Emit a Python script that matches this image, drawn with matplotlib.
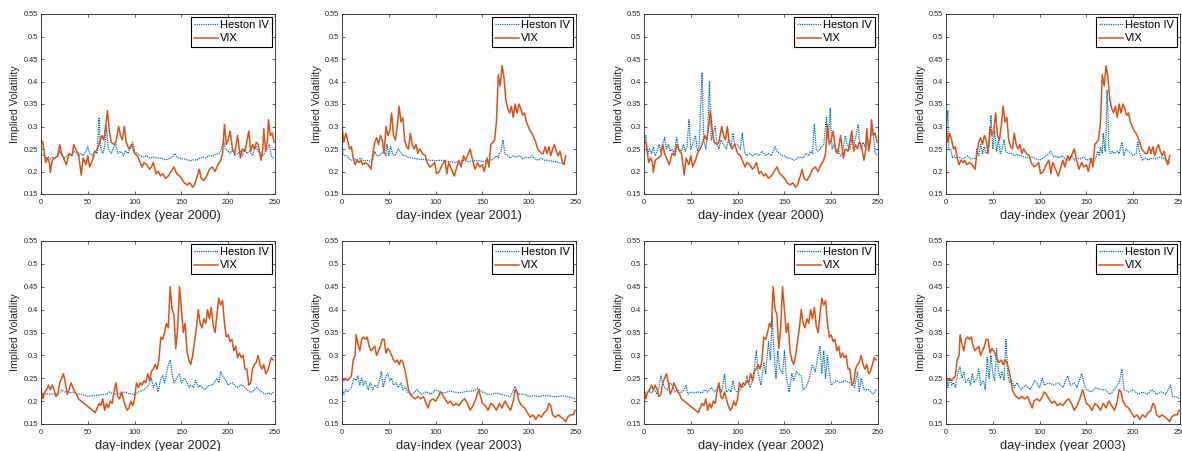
import matplotlib
matplotlib.use('Agg')
import matplotlib.pyplot as plt

plt.rcParams['font.family'] = ['Liberation Sans', 'DejaVu Sans']

# values, as (day-index, implied vol) pairs
vix_2000 = [(0, .27), (2, .265), (3, .25), (5, .22), (7, .23), (9, .22), (10, .198), (12, .225), (15, .23),
            (18, .235), (20, .26), (22, .24), (25, .225), (27, .215), (30, .24), (33, .235), (35, .26), (38, .245),
            (40, .24), (43, .192), (45, .23), (48, .215), (50, .235), (52, .21), (55, .225), (57, .24), (60, .25),
            (62, .26), (65, .28), (67, .27), (69, .30), (71, .335), (73, .29), (75, .265), (78, .26), (80, .265),
            (83, .30), (85, .28), (87, .27), (89, .30), (91, .265), (94, .25), (97, .26), (100, .24), (103, .235),
            (105, .225), (108, .21), (110, .22), (113, .215), (116, .205), (118, .21), (120, .22), (123, .195),
            (125, .20), (128, .19), (130, .195), (133, .185), (136, .19), (139, .2), (142, .21), (145, .195),
            (148, .19), (150, .185), (153, .175), (156, .17), (159, .175), (162, .165), (164, .17), (167, .19),
            (169, .205), (171, .185), (174, .18), (177, .19), (180, .205), (183, .21), (186, .2), (189, .215),
            (192, .225), (194, .24), (196, .305), (198, .26), (200, .27), (202, .29), (205, .245), (207, .24),
            (210, .28), (213, .23), (215, .25), (218, .245), (222, .29), (224, .245), (226, .26), (228, .25),
            (230, .265), (232, .26), (235, .225), (237, .25), (238, .295), (240, .245), (242, .27), (243, .315),
            (245, .28), (247, .285), (249, .265)]

heston_a_2000 = [(0, .24), (3, .235), (5, .23), (8, .232), (10, .228), (13, .232), (15, .23), (18, .235), (20, .245),
                 (22, .235), (25, .23), (28, .235), (30, .24), (33, .235), (35, .245), (38, .24), (40, .235),
                 (43, .24), (45, .235), (48, .245), (50, .255), (52, .24), (55, .235), (57, .245), (60, .24),
                 (62, .32), (63, .27), (64, .25), (66, .24), (68, .255), (70, .30), (71, .27), (72, .25), (75, .24),
                 (78, .255), (80, .26), (82, .24), (85, .245), (88, .235), (90, .245), (93, .24), (95, .25),
                 (98, .265), (100, .245), (103, .24), (106, .235), (110, .232), (113, .235), (116, .23), (120, .232),
                 (123, .23), (126, .23), (130, .228), (133, .226), (136, .228), (140, .232), (143, .24), (145, .232),
                 (148, .23), (150, .228), (153, .228), (156, .226), (160, .224), (163, .226), (166, .225), (170, .23),
                 (173, .232), (176, .23), (180, .236), (183, .233), (186, .238), (190, .24), (192, .245), (195, .27),
                 (197, .25), (200, .245), (202, .24), (205, .25), (207, .235), (210, .24), (213, .245), (215, .235),
                 (218, .25), (220, .24), (223, .245), (226, .235), (228, .25), (230, .255), (232, .245), (235, .24),
                 (237, .235), (240, .245), (242, .25), (244, .26), (246, .235), (248, .23), (249, .228)]

heston_b_2000 = [(0, .265), (2, .28), (4, .24), (6, .25), (8, .24), (10, .255), (12, .235), (14, .245), (16, .26),
                 (18, .245), (20, .26), (22, .275), (24, .25), (26, .26), (28, .245), (30, .25), (32, .24), (35, .275),
                 (37, .25), (40, .245), (42, .26), (44, .245), (46, .255), (48, .315), (50, .25), (52, .26), (55, .28),
                 (57, .245), (59, .255), (62, .42), (63, .33), (64, .27), (66, .25), (68, .28), (70, .40), (71, .32),
                 (72, .27), (74, .285), (76, .30), (78, .26), (80, .25), (82, .27), (85, .26), (88, .25), (90, .27),
                 (93, .255), (95, .285), (97, .26), (100, .26), (103, .25), (105, .285), (107, .25), (108, .24),
                 (110, .235), (113, .24), (116, .235), (120, .24), (123, .235), (126, .245), (130, .235), (133, .24),
                 (136, .235), (140, .255), (142, .245), (145, .24), (148, .235), (150, .235), (153, .23), (156, .23),
                 (160, .225), (163, .228), (166, .232), (170, .23), (173, .24), (176, .235), (178, .245), (180, .24),
                 (182, .305), (184, .25), (186, .245), (188, .25), (190, .255), (192, .26), (195, .32), (196, .28),
                 (197, .27), (199, .34), (200, .28), (201, .25), (203, .26), (205, .245), (207, .25), (210, .235),
                 (212, .24), (215, .28), (217, .26), (220, .25), (222, .27), (224, .26), (226, .275), (229, .305),
                 (230, .27), (232, .25), (234, .265), (236, .255), (238, .285), (240, .26), (242, .275), (244, .30),
                 (246, .26), (247, .24), (249, .235)]

vix_2001 = [(0, .30), (2, .265), (4, .285), (6, .27), (8, .25), (10, .255), (12, .23), (14, .215), (16, .225),
            (18, .22), (20, .225), (22, .215), (25, .22), (28, .215), (31, .205), (33, .24), (35, .265), (37, .275),
            (39, .26), (41, .28), (43, .27), (45, .24), (47, .30), (49, .28), (51, .29), (53, .33), (55, .28),
            (57, .27), (59, .30), (61, .345), (63, .31), (65, .32), (67, .27), (69, .255), (71, .25), (73, .285),
            (75, .26), (77, .25), (79, .26), (81, .24), (83, .25), (86, .24), (89, .235), (91, .22), (94, .21),
            (97, .215), (99, .22), (101, .195), (104, .2), (107, .215), (110, .225), (112, .195), (114, .22),
            (117, .205), (120, .19), (122, .205), (125, .225), (127, .21), (130, .235), (132, .225), (135, .24),
            (137, .25), (139, .23), (142, .205), (145, .22), (147, .21), (150, .215), (152, .2), (155, .23),
            (157, .21), (159, .26), (161, .265), (163, .27), (165, .31), (167, .415), (169, .39), (171, .435),
            (173, .41), (175, .36), (177, .34), (179, .33), (181, .345), (183, .32), (185, .35), (187, .33),
            (189, .35), (191, .34), (193, .325), (195, .33), (197, .31), (199, .30), (201, .29), (203, .285),
            (205, .275), (207, .265), (209, .25), (211, .245), (213, .24), (215, .24), (217, .255), (219, .24),
            (221, .255), (223, .235), (225, .25), (227, .26), (229, .245), (231, .235), (233, .245), (235, .225),
            (237, .215), (239, .235)]

heston_a_2001 = [(0, .265), (1, .24), (3, .235), (5, .235), (7, .23), (10, .225), (13, .228), (16, .225), (20, .23),
                 (23, .224), (26, .225), (30, .223), (33, .228), (35, .245), (37, .235), (40, .235), (42, .24),
                 (45, .245), (47, .235), (48, .26), (50, .235), (52, .255), (54, .24), (56, .235), (58, .24),
                 (60, .25), (62, .245), (65, .235), (68, .235), (70, .232), (75, .23), (80, .228), (85, .227),
                 (90, .226), (95, .225), (100, .224), (105, .225), (110, .223), (115, .222), (120, .22), (125, .222),
                 (130, .225), (135, .222), (140, .223), (145, .225), (150, .222), (155, .224), (160, .226),
                 (163, .23), (165, .235), (167, .23), (168, .24), (170, .245), (172, .27), (174, .24), (177, .235),
                 (180, .23), (183, .235), (186, .232), (190, .235), (193, .228), (196, .232), (200, .23), (203, .235),
                 (206, .228), (210, .225), (213, .23), (216, .225), (220, .225), (224, .223), (228, .222), (232, .22),
                 (236, .218), (239, .215)]

heston_b_2001 = [(0, .29), (2, .335), (3, .25), (5, .25), (7, .23), (9, .235), (11, .23), (14, .232), (17, .228),
                 (20, .23), (23, .235), (26, .228), (30, .23), (32, .228), (33, .25), (35, .235), (37, .26), (39, .24),
                 (41, .255), (43, .24), (45, .25), (47, .28), (48, .325), (50, .25), (52, .29), (54, .245), (56, .27),
                 (58, .24), (60, .25), (62, .27), (64, .245), (67, .24), (70, .24), (73, .235), (76, .238), (80, .235),
                 (84, .232), (88, .23), (92, .232), (96, .228), (100, .225), (104, .23), (107, .235), (110, .24),
                 (112, .245), (115, .232), (118, .235), (120, .23), (124, .235), (127, .228), (130, .225), (134, .235),
                 (137, .225), (140, .23), (144, .228), (147, .232), (150, .225), (154, .228), (158, .225), (160, .23),
                 (162, .245), (164, .235), (165, .255), (167, .24), (168, .285), (170, .245), (171, .28), (172, .38),
                 (173, .33), (174, .25), (176, .24), (178, .245), (180, .24), (183, .245), (185, .24), (188, .265),
                 (190, .235), (192, .25), (195, .245), (198, .24), (200, .235), (203, .24), (205, .265), (207, .24),
                 (210, .225), (213, .23), (216, .225), (220, .23), (224, .228), (228, .232), (232, .23), (236, .225),
                 (239, .22)]

vix_2002 = [(0, .225), (2, .205), (4, .22), (6, .225), (8, .235), (10, .225), (12, .235), (14, .225), (16, .21),
            (18, .215), (20, .24), (22, .25), (24, .26), (26, .24), (28, .215), (30, .225), (32, .24), (34, .23),
            (36, .22), (38, .215), (40, .205), (43, .2), (46, .195), (49, .19), (52, .185), (55, .18), (58, .175),
            (60, .185), (62, .195), (64, .19), (66, .205), (68, .18), (70, .195), (72, .185), (74, .2), (76, .195),
            (78, .22), (80, .24), (82, .21), (84, .205), (86, .22), (88, .205), (90, .19), (92, .18), (94, .185),
            (96, .2), (98, .19), (100, .205), (102, .24), (104, .23), (106, .24), (108, .235), (110, .245),
            (112, .24), (114, .26), (116, .245), (118, .265), (120, .27), (122, .28), (124, .27), (126, .29),
            (128, .34), (130, .335), (132, .35), (134, .37), (136, .36), (138, .45), (140, .40), (142, .39),
            (144, .315), (146, .36), (148, .45), (150, .40), (152, .35), (154, .37), (156, .31), (158, .29),
            (160, .28), (162, .30), (164, .33), (166, .36), (168, .40), (170, .37), (172, .36), (174, .38),
            (176, .37), (178, .40), (180, .38), (182, .405), (184, .365), (186, .35), (188, .39), (190, .425),
            (192, .41), (194, .42), (196, .37), (198, .34), (200, .345), (202, .33), (204, .335), (206, .31),
            (208, .32), (210, .295), (212, .305), (214, .295), (216, .30), (218, .27), (220, .27), (222, .235),
            (224, .24), (226, .27), (228, .28), (230, .285), (232, .30), (234, .28), (236, .27), (238, .28),
            (240, .26), (242, .265), (244, .28), (246, .295), (248, .29)]

heston_a_2002 = [(0, .22), (3, .215), (6, .216), (10, .215), (13, .216), (16, .215), (20, .218), (22, .225), (25, .22),
                 (28, .222), (31, .218), (35, .22), (38, .216), (41, .215), (45, .214), (50, .21), (55, .212),
                 (60, .213), (65, .214), (70, .215), (73, .22), (75, .218), (78, .215), (82, .216), (86, .218),
                 (90, .22), (94, .216), (98, .215), (101, .215), (104, .22), (107, .222), (110, .225), (113, .23),
                 (115, .235), (117, .245), (118, .25), (120, .23), (123, .24), (125, .22), (128, .25), (130, .255),
                 (132, .24), (134, .26), (136, .28), (138, .29), (140, .26), (142, .24), (145, .25), (148, .26),
                 (150, .24), (153, .25), (155, .245), (158, .23), (160, .235), (163, .23), (165, .245), (168, .23),
                 (170, .235), (173, .228), (175, .225), (178, .232), (180, .235), (183, .235), (185, .24), (188, .25),
                 (190, .24), (192, .265), (194, .255), (196, .25), (200, .235), (203, .24), (205, .24), (208, .232),
                 (210, .23), (213, .235), (215, .235), (218, .23), (220, .225), (223, .22), (226, .22), (230, .23),
                 (233, .225), (236, .22), (240, .215), (243, .218), (246, .215), (248, .22)]

heston_b_2002 = [(0, .225), (2, .215), (5, .222), (8, .218), (11, .225), (14, .215), (16, .23), (18, .255), (20, .24),
                 (22, .23), (25, .225), (28, .24), (30, .235), (33, .22), (36, .225), (39, .218), (42, .222),
                 (45, .235), (47, .215), (50, .22), (54, .218), (58, .22), (62, .218), (65, .225), (68, .22),
                 (72, .23), (75, .22), (78, .225), (80, .235), (83, .22), (86, .26), (88, .22), (91, .225), (93, .22),
                 (95, .245), (97, .225), (100, .22), (103, .225), (105, .23), (108, .235), (110, .255), (113, .23),
                 (116, .245), (118, .27), (120, .31), (122, .26), (125, .235), (128, .285), (130, .26), (133, .33),
                 (135, .29), (137, .385), (139, .30), (141, .25), (143, .31), (145, .27), (148, .26), (150, .31),
                 (152, .255), (155, .22), (158, .26), (160, .245), (163, .265), (165, .26), (168, .255), (170, .225),
                 (173, .23), (176, .245), (180, .28), (183, .265), (186, .30), (188, .32), (190, .26), (192, .31),
                 (194, .25), (196, .30), (198, .26), (200, .235), (205, .245), (210, .24), (215, .245), (220, .24),
                 (225, .23), (228, .265), (230, .22), (232, .25), (235, .225), (240, .225), (245, .215), (248, .225)]

vix_2003 = [(0, .25), (2, .245), (4, .25), (6, .245), (8, .25), (10, .255), (12, .29), (14, .30), (15, .345),
            (17, .325), (19, .31), (21, .335), (23, .34), (25, .335), (27, .34), (29, .32), (31, .31), (33, .315),
            (35, .32), (37, .30), (39, .31), (41, .32), (43, .335), (45, .335), (47, .305), (49, .315), (51, .31),
            (53, .30), (55, .29), (57, .285), (59, .29), (61, .28), (63, .29), (65, .285), (67, .27), (69, .25),
            (71, .225), (73, .215), (75, .21), (78, .205), (81, .21), (84, .205), (87, .21), (90, .195), (92, .185),
            (94, .2), (97, .205), (100, .20), (103, .21), (105, .22), (107, .215), (110, .205), (113, .195),
            (116, .2), (119, .19), (122, .195), (125, .19), (128, .2), (131, .205), (134, .195), (137, .18),
            (140, .19), (143, .205), (146, .225), (148, .21), (150, .195), (153, .19), (156, .18), (159, .195),
            (162, .19), (165, .18), (168, .195), (171, .185), (174, .2), (177, .19), (180, .18), (183, .2),
            (185, .225), (187, .22), (189, .2), (192, .19), (195, .185), (198, .175), (201, .165), (204, .17),
            (207, .16), (210, .17), (213, .165), (216, .175), (219, .18), (221, .195), (223, .19), (225, .17),
            (228, .165), (231, .17), (234, .165), (237, .16), (239, .155), (241, .165), (244, .17), (247, .17),
            (249, .18)]

heston_a_2003 = [(0, .23), (2, .215), (4, .225), (6, .22), (8, .225), (10, .23), (13, .25), (15, .245), (17, .255),
                 (19, .235), (21, .25), (23, .235), (25, .245), (28, .225), (30, .24), (33, .225), (35, .235),
                 (38, .23), (40, .245), (42, .265), (44, .23), (47, .255), (49, .26), (51, .245), (53, .25), (55, .235),
                 (58, .24), (60, .23), (63, .24), (65, .225), (68, .23), (70, .22), (75, .215), (80, .225), (85, .215),
                 (90, .22), (95, .215), (100, .225), (105, .22), (110, .218), (115, .222), (120, .22), (125, .218),
                 (130, .22), (135, .222), (140, .222), (145, .228), (150, .22), (155, .215), (160, .215), (165, .218),
                 (170, .215), (175, .212), (180, .21), (185, .232), (188, .215), (195, .215), (200, .21), (205, .212),
                 (210, .21), (215, .212), (220, .212), (225, .21), (230, .21), (235, .212), (240, .21), (245, .208),
                 (249, .205)]

heston_b_2003 = [(0, .275), (2, .23), (4, .25), (6, .235), (8, .24), (10, .23), (13, .265), (15, .275), (17, .25),
                 (19, .265), (21, .24), (24, .25), (26, .235), (28, .26), (30, .24), (33, .25), (35, .27), (37, .235),
                 (40, .245), (42, .225), (44, .295), (46, .25), (48, .30), (50, .26), (52, .245), (54, .315),
                 (56, .265), (58, .25), (60, .265), (62, .245), (64, .335), (66, .26), (68, .24), (70, .245),
                 (73, .23), (76, .24), (80, .225), (85, .235), (90, .225), (95, .245), (100, .23), (103, .25),
                 (105, .235), (110, .24), (115, .235), (120, .24), (125, .23), (130, .255), (133, .235), (137, .24),
                 (140, .23), (145, .26), (148, .235), (150, .225), (155, .22), (160, .23), (165, .225), (170, .225),
                 (175, .215), (180, .225), (185, .24), (188, .27), (190, .225), (195, .22), (200, .225), (205, .215),
                 (210, .22), (215, .215), (220, .225), (225, .215), (230, .22), (235, .215), (240, .235), (242, .21),
                 (246, .21), (249, .205)]

# panel order, row by row
panels = [
    (2000, heston_a_2000, vix_2000), (2001, heston_a_2001, vix_2001),
    (2000, heston_b_2000, vix_2000), (2001, heston_b_2001, vix_2001),
    (2002, heston_a_2002, vix_2002), (2003, heston_a_2003, vix_2003),
    (2002, heston_b_2002, vix_2002), (2003, heston_b_2003, vix_2003),
]

yticks = [0.15, 0.2, 0.25, 0.3, 0.35, 0.4, 0.45, 0.5, 0.55]
ytick_labels = ['0.15', '0.2', '0.25', '0.3', '0.35', '0.4', '0.45', '0.5', '0.55']
xticks = [0, 50, 100, 150, 200, 250]

W, H = 1182, 451
fig = plt.figure(figsize=(W / 100, H / 100), dpi=100)

col_left = [41, 342, 644, 946]
row_box = [(14, 194), (241, 424)]  # top, bottom in pixels
ax_w = 234
dark = '#262626'

for i, (year, heston, vix) in enumerate(panels):
    r, c = divmod(i, 4)
    top, bot = row_box[r]
    ax = fig.add_axes([col_left[c] / W, (H - bot) / H, ax_w / W, (bot - top) / H])

    hx, hy = zip(*heston)
    vx, vy = zip(*vix)
    ax.plot(hx, hy, color='#0072BD', linestyle=(0, (1, 0.8)), linewidth=0.9, label='Heston IV')
    ax.plot(vx, vy, color='#D95319', linestyle='-', linewidth=1.1, label='VIX')

    ax.set_xlim(0, 250)
    ax.set_ylim(0.15, 0.55)
    ax.set_xticks(xticks)
    ax.set_yticks(yticks)
    ax.set_yticklabels(ytick_labels)
    ax.tick_params(direction='in', top=True, right=True, length=2.5, width=0.5,
                   colors=dark, labelsize=5.3, pad=2.5)
    ax.tick_params(axis='x', pad=3.5)
    for s in ax.spines.values():
        s.set_linewidth(0.6)
        s.set_color(dark)

    ax.set_xlabel(f'day-index (year {year})', fontsize=9.3, color=dark, labelpad=3)
    ax.set_ylabel('Implied Volatility', fontsize=7.7, color=dark, labelpad=2)

    leg = ax.legend(loc='upper right', fontsize=8, fancybox=False, framealpha=1,
                    edgecolor='black', borderaxespad=0.25, handlelength=2.2,
                    handletextpad=0.15, borderpad=0.3, labelspacing=0.3)
    leg.get_frame().set_linewidth(0.8)

fig.savefig('out.png', dpi=100)
